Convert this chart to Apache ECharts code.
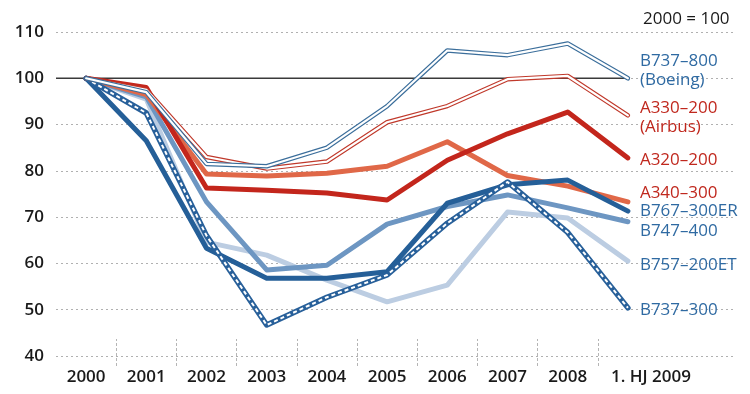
<!DOCTYPE html>
<html>
<head>
<meta charset="utf-8">
<title>Flugzeugpreise 2000 = 100</title>
<script src="https://cdn.jsdelivr.net/npm/echarts@6/dist/echarts.min.js"></script>
<style>
    html, body { margin: 0; padding: 0; background: #fff; }
    #chart { width: 750px; height: 394px; }
</style>
</head>
<body>
<div id="chart"></div>
<script>

// Data
// ------------------------------

var years = ['2000', '2001', '2002', '2003', '2004', '2005', '2006', '2007', '2008', '1. HJ 2009'];
var yTicks = [40, 50, 60, 70, 80, 90, 100, 110];
var baseLine = [100, 100];

var b737_800 = [100, 97, 81.5, 81, 85, 94, 106, 105, 107.5, 100];
var a330_200 = [100, 97.5, 83, 80.5, 82, 90.5, 94, 99.8, 100.5, 92];
var a320_200 = [100, 98, 76.3, 75.8, 75.2, 73.7, 82.3, 88, 92.7, 82.8];
var a340_300 = [100, 96.5, 79.3, 78.9, 79.5, 81, 86.3, 79, 76.7, 73.3];
var b767_300er = [100, 86.5, 63.3, 56.8, 56.8, 58.2, 73, 77, 78, 71.3];
var b747_400 = [100, 96, 73.3, 58.6, 59.6, 68.5, 72.3, 74.8, 72, 69];
var b757_200et = [100, 95.5, 64.6, 61.8, 56.4, 51.7, 55.3, 71.1, 69.8, 60.5];
var b737_300 = [100, 92.5, 66, 46.7, 52.7, 57.5, 68.7, 77.6, 66.7, 50.4];


// Chart
// ------------------------------

var chartElement = document.getElementById('chart');
var chart = echarts.init(chartElement, null, { renderer: 'canvas' });

var FONT = '"Open Sans", "Noto Sans", sans-serif';
var RED = '#c0281e';
var BLUE = '#2f6aa2';

// Band width of one year on the category axis (602px / 10 bands)
var BAND = 60.2;

// Line series helper
var makeLine = function(name, values, color, width, label, dy, extra) {
    var s = {
        name: name,
        type: 'line',
        xAxisIndex: 0,
        yAxisIndex: 0,
        data: values,
        symbol: 'none',
        silent: true,
        lineStyle: { color: color, width: width, cap: 'round', join: 'round' },
        endLabel: label ? {
            show: true,
            formatter: label,
            color: label.indexOf('A3') === 0 ? RED : BLUE,
            fontFamily: FONT,
            fontSize: 17,
            lineHeight: 19,
            distance: 12,
            offset: [0, dy]
        } : { show: false }
    };
    if (extra) {
        s.lineStyle = Object.assign(s.lineStyle, extra);
    }
    return s;
};

chart.setOption({
    animation: false,
    textStyle: { fontFamily: FONT },

    grid: [
        // data grid
        { left: 56, right: 92, top: 32, bottom: 38 },
        // wide grid for the horizontal guide lines
        { left: 56, right: 15, top: 32, bottom: 38 },
        // grid for the year separators (between 2000|2001 and 2008|2009)
        { left: 56 + BAND, right: 92 + BAND, top: 32, bottom: 38 }
    ],

    xAxis: [
        {
            type: 'category',
            gridIndex: 0,
            data: years.map(function(y, i) {
                return i === years.length - 1 ? { value: y, textStyle: { padding: [0, 0, 0, 46] } } : y;
            }),
            boundaryGap: true,
            axisLine: { show: false },
            axisTick: { show: false },
            axisLabel: {
                interval: 0,
                margin: 13,
                color: '#1a1a1a',
                fontSize: 17,
                fontWeight: 600,
                fontFamily: FONT
            },
            splitLine: { show: false }
        },
        {
            type: 'value',
            gridIndex: 1,
            min: -0.5,
            max: -0.5 + 679 / BAND,
            show: false
        },
        {
            type: 'category',
            gridIndex: 2,
            data: years.slice(0, years.length - 1),
            boundaryGap: false,
            offset: 10,
            axisLine: { show: false },
            axisLabel: { show: false },
            axisTick: {
                show: true,
                inside: true,
                length: 27,
                interval: 0,
                lineStyle: { color: '#b5b5b5', type: [3, 2], width: 1 }
            },
            splitLine: { show: false }
        }
    ],

    yAxis: [
        {
            type: 'value',
            gridIndex: 0,
            min: 40,
            max: 110,
            interval: 10,
            show: false,
            splitLine: { show: false }
        },
        {
            type: 'value',
            gridIndex: 1,
            min: yTicks[0],
            max: yTicks[yTicks.length - 1],
            interval: 10,
            axisLine: { show: false },
            axisTick: { show: false },
            axisLabel: {
                margin: 12,
                color: '#1a1a1a',
                fontSize: 17,
                fontWeight: 600,
                fontFamily: FONT
            },
            splitLine: {
                show: true,
                lineStyle: { color: '#b0b0b0', type: [2, 3], width: 1.2 }
            }
        },
        {
            type: 'value',
            gridIndex: 2,
            min: 40,
            max: 110,
            show: false
        }
    ],

    graphic: [{
        type: 'text',
        left: 643,
        top: 11,
        style: {
            text: '2000 = 100',
            fill: '#1a1a1a',
            font: '500 17px ' + FONT
        }
    }],

    series: [
        // Base line 2000 = 100
        {
            name: 'Basis',
            type: 'line',
            xAxisIndex: 1,
            yAxisIndex: 1,
            data: [[-0.5, baseLine[0]], [years.length - 1, baseLine[1]]],
            symbol: 'none',
            silent: true,
            z: 1,
            lineStyle: { color: '#3a3a3a', width: 1.6 }
        },
        makeLine('B757-200ET', b757_200et, '#bccde2', 5, 'B757–200ET', 4),
        makeLine('B747-400', b747_400, '#6d96c2', 5, 'B747–400', 9),
        makeLine('A340-300', a340_300, '#e06848', 5, 'A340–300', -9),
        makeLine('A320-200', a320_200, '#c3261c', 5, 'A320–200', 2),
        makeLine('B767-300ER', b767_300er, '#255f98', 5, 'B767–300ER', 0),
        makeLine('B737-300', b737_300, '#28609a', 5.5, 'B737–300', 2),
        makeLine('B737-300 inner', b737_300, '#ffffff', 2, null, 0, { type: [4, 3], cap: 'butt' }),
        makeLine('A330-200', a330_200, '#c0392b', 4.5, 'A330–200\n(Airbus)', 2),
        makeLine('A330-200 inner', a330_200, '#ffffff', 2.2, null, 0),
        makeLine('B737-800', b737_800, '#3b6e9b', 4.5, 'B737–800\n(Boeing)', -8),
        makeLine('B737-800 inner', b737_800, '#ffffff', 2.2, null, 0)
    ]
});

// Resize
window.addEventListener('resize', function() {
    chart.resize();
});

</script>
</body>
</html>
